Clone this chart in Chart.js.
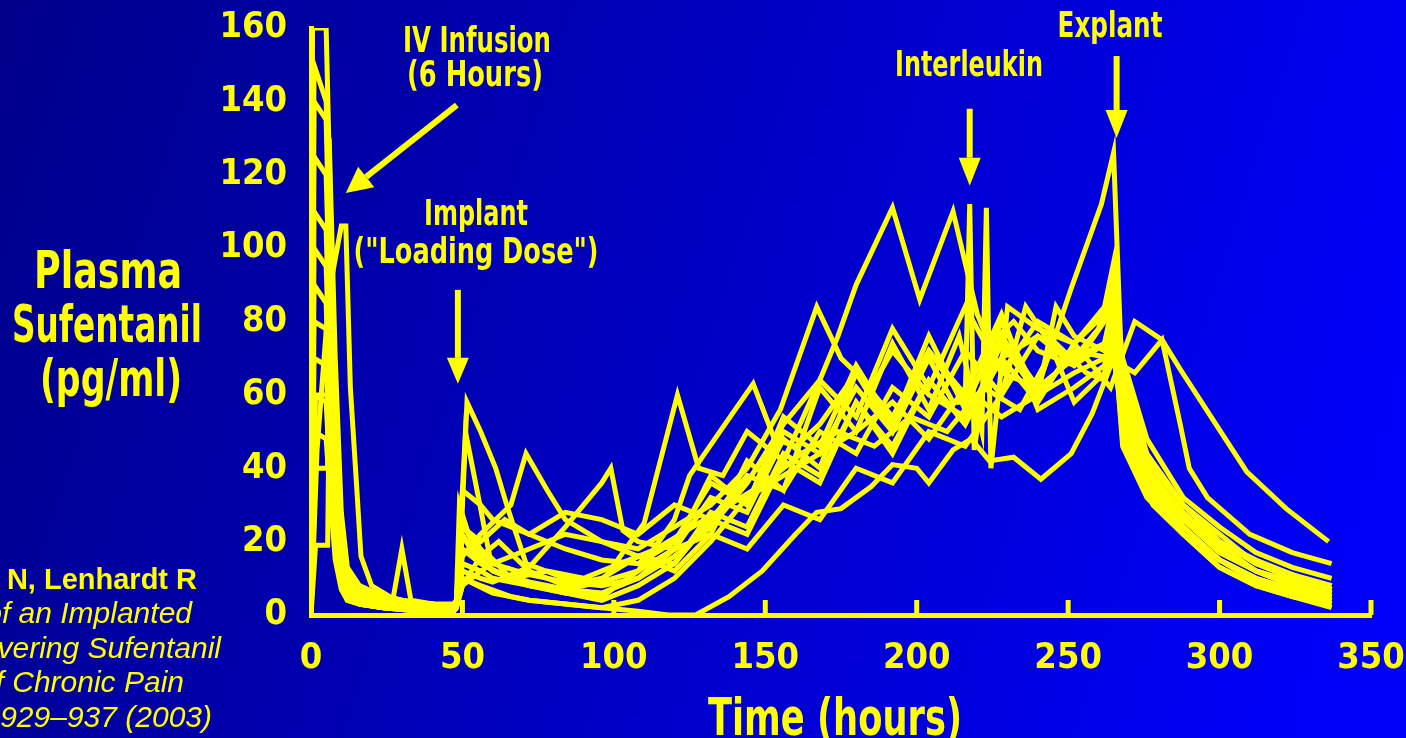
<!DOCTYPE html>
<html>
<head>
<meta charset="utf-8">
<title>Plasma Sufentanil</title>
<script src="https://cdn.jsdelivr.net/npm/chart.js@4.4.1/dist/chart.umd.min.js"></script>
<style>
    html, body { margin: 0; padding: 0; background: #0000a0; overflow: hidden; }
    #wrap { width: 1406px; height: 738px; position: relative; }
</style>
</head>
<body>
<div id="wrap"><canvas id="plasma"></canvas></div>
<script>
// sampling times (hours) and plasma sufentanil (pg/ml), one pair per patient
const hours1 = [0, 0.5, 5, 6, 8, 10, 12, 16, 24, 36, 47, 48, 49, 52, 60, 72, 84, 96, 108, 120, 132, 144, 156, 168, 174, 180, 192, 201, 212, 220, 228, 240, 252, 260, 265, 268, 276, 288, 300, 312, 324, 337];
const conc1  = [0, 160, 160, 125, 58, 22, 10, 6, 4, 3, 3, 4, 30, 22, 14, 11, 9, 8, 10, 16, 24, 36, 52, 64, 76, 90, 111, 86, 110, 82, 66, 62, 70, 78, 92, 70, 48, 32, 24, 17, 13, 10];

const hours2 = [0, 1, 5, 7, 9, 12, 16, 20, 30, 40, 47, 48, 50, 56, 60, 72, 84, 96, 108, 120, 132, 144, 156, 168, 180, 192, 204, 212, 216, 217.5, 219, 224, 232, 240, 252, 262, 265, 268, 276, 288, 300, 312, 324, 337];
const conc2  = [0, 150, 140, 85, 32, 12, 7, 5, 4, 3, 2, 3, 34, 30, 26, 22, 18, 15, 14, 20, 36, 30, 50, 44, 62, 50, 70, 58, 58, 112, 45, 74, 80, 72, 68, 80, 88, 62, 42, 30, 22, 14, 10, 7];

const hours3 = [0, 2, 6, 10, 11.5, 13, 15, 16.5, 20, 26, 30, 34, 40, 47, 48, 50, 54, 60, 72, 84, 96, 108, 120, 132, 144, 156, 168, 180, 192, 204, 214, 221.5, 223, 224.5, 230, 240, 252, 262, 265, 268, 276, 288, 300, 312, 324, 337];
const conc3  = [0, 45, 88, 106, 106, 62, 36, 16, 8, 5, 4, 3, 3, 2, 3, 22, 16, 12, 9, 7, 6, 10, 18, 22, 42, 34, 62, 50, 74, 56, 76, 50, 111, 40, 84, 78, 74, 82, 90, 66, 44, 30, 20, 14, 11, 8];

const hours4 = [0, 1, 5, 6, 8, 10, 12, 16, 24, 36, 47, 48, 49.5, 51.5, 56, 61, 65, 71, 84, 96, 108, 120, 132, 144, 156, 168, 180, 192, 204, 216, 228, 240, 251, 261, 265, 268, 272, 280, 288, 300, 312, 324, 337];
const conc4  = [0, 140, 135, 100, 45, 18, 9, 6, 4, 3, 2, 3, 20, 58, 50, 40, 29, 14, 10, 9, 12, 18, 32, 28, 48, 40, 66, 54, 72, 58, 76, 62, 89, 112, 126, 60, 40, 32, 26, 18, 12, 8, 5];

const hours5 = [0, 1.5, 5.5, 6.5, 8, 10, 12, 16, 24, 27, 30, 33, 40, 47, 48, 50, 56, 66, 71, 78, 84, 96, 108, 120, 132, 144, 156, 168, 180, 192, 204, 216, 228, 240, 252, 264, 272, 281, 287, 298, 309, 322, 336];
const conc5  = [0, 19, 19, 95, 50, 20, 10, 6, 4, 4, 18, 4, 3, 2, 3, 16, 22, 30, 44, 34, 26, 20, 16, 14, 28, 24, 44, 38, 58, 46, 64, 52, 70, 58, 74, 62, 80, 75, 67, 53, 39, 29, 20];

const hours6 = [0, 1.5, 5.5, 6, 8, 10, 12, 16, 24, 36, 47, 48, 50, 56, 60, 72, 84, 96, 99, 103, 108, 120, 132, 144, 156, 168, 180, 192, 204, 216, 228, 240, 252, 264, 272, 281, 287, 290, 296, 310, 324, 337];
const conc6  = [0, 40, 40, 115, 62, 24, 11, 7, 5, 3, 2, 3, 12, 10, 9, 13, 24, 36, 40, 23, 20, 18, 38, 30, 54, 46, 68, 52, 76, 56, 80, 60, 72, 70, 66, 75, 52, 40, 32, 22, 17, 14];

const hours7 = [0, 1.5, 5.5, 6, 8, 10, 12, 16, 24, 36, 47, 48, 50, 56, 66, 72, 84, 96, 108, 118, 127, 138, 149, 160, 167, 175, 185, 192, 200, 204, 212, 218, 224, 232, 241, 251, 258, 265, 270, 278, 288, 300, 312, 324, 337];
const conc7  = [0, 60, 60, 130, 70, 28, 13, 8, 5, 3, 2, 3, 10, 8, 5, 4, 3, 2, 1, 0, 0, 5, 12, 22, 28, 29, 35, 41, 40, 36, 45, 48, 42, 43, 37, 44, 55, 70, 45, 30, 22, 15, 9, 6, 3];

const hours8 = [0, 1, 5, 6, 8, 10, 12, 16, 24, 36, 47, 48, 50, 54, 60, 72, 84, 96, 110, 121, 128, 136, 144, 156, 168, 180, 192, 204, 216, 228, 240, 252, 262, 265, 268, 276, 288, 300, 312, 324, 337];
const conc8  = [0, 125, 120, 90, 40, 16, 8, 5, 3, 2, 2, 3, 26, 18, 12, 8, 7, 9, 25, 60, 40, 38, 50, 42, 64, 54, 78, 62, 84, 66, 80, 74, 84, 96, 64, 40, 27, 18, 12, 9, 6];

const hours9 = [0, 1, 5, 6, 8, 10, 12, 16, 24, 36, 47, 48, 50, 56, 60, 72, 84, 96, 108, 120, 125, 135, 146, 153, 160, 168, 180, 192, 204, 216, 228, 240, 252, 262, 265, 268, 276, 288, 300, 312, 324, 337];
const conc9  = [0, 110, 105, 75, 35, 14, 7, 4, 3, 2, 1, 2, 14, 12, 10, 8, 6, 5, 12, 26, 38, 50, 63, 48, 46, 52, 66, 50, 72, 60, 82, 56, 62, 68, 80, 50, 36, 24, 15, 10, 7, 4];

const hours10 = [0, 1, 5, 6, 8, 10, 12, 16, 24, 36, 47, 48, 50, 56, 60, 72, 84, 96, 108, 120, 132, 144, 155, 167, 175, 185, 192, 204, 216, 228, 240, 252, 262, 265, 268, 276, 288, 300, 312, 324, 337];
const conc10  = [0, 100, 95, 70, 30, 12, 6, 4, 3, 2, 1, 2, 8, 12, 14, 18, 22, 20, 18, 24, 30, 40, 56, 84, 70, 62, 72, 60, 54, 70, 76, 70, 74, 84, 56, 38, 26, 17, 12, 8, 5];

const hours11 = [0, 1, 5, 6, 8, 10, 12, 16, 24, 36, 47, 48, 51, 56, 59, 66, 72, 84, 96, 108, 120, 132, 144, 156, 168, 180, 192, 204, 216, 228, 240, 246, 252, 262, 265, 268, 276, 288, 300, 312, 324, 337];
const conc11  = [0, 90, 85, 60, 26, 10, 5, 3, 2, 2, 1, 2, 50, 29, 16, 10, 8, 6, 4, 8, 14, 26, 22, 42, 36, 58, 44, 64, 52, 74, 60, 84, 76, 72, 78, 46, 32, 22, 13, 8, 5, 2];

const hours12 = [0, 1, 5, 6, 8, 10, 12, 16, 24, 36, 47, 48, 50, 56, 66, 78, 90, 102, 114, 126, 138, 150, 162, 174, 186, 198, 210, 222, 234, 246, 256, 262, 265, 268, 276, 288, 300, 312, 324, 337];
const conc12  = [0, 80, 78, 55, 24, 10, 5, 3, 2, 2, 1, 2, 18, 14, 10, 12, 10, 14, 18, 24, 30, 36, 44, 50, 46, 54, 50, 62, 56, 74, 66, 64, 72, 52, 36, 24, 15, 10, 7, 4];

const hours13 = [0, 1, 5, 6, 8, 10, 12, 16, 24, 36, 47, 48, 50, 60, 72, 84, 96, 108, 120, 132, 144, 156, 168, 180, 192, 204, 216, 228, 240, 252, 262, 265, 268, 276, 288, 300, 312, 324, 337];
const conc13  = [0, 70, 68, 48, 20, 9, 5, 3, 2, 1, 1, 2, 10, 6, 4, 3, 2, 4, 10, 20, 32, 38, 44, 50, 58, 48, 62, 54, 60, 66, 70, 76, 48, 34, 22, 13, 8, 5, 3];

const hours14 = [0, 1, 5, 6, 8, 10, 12, 16, 24, 36, 47, 48, 50, 56, 64, 72, 84, 96, 108, 120, 132, 144, 156, 168, 180, 192, 204, 216, 228, 240, 252, 262, 265, 268, 276, 288, 300, 312, 324, 337];
const conc14  = [0, 60, 58, 42, 18, 8, 4, 3, 2, 1, 1, 2, 24, 20, 26, 22, 28, 26, 22, 30, 26, 38, 34, 50, 44, 62, 54, 72, 60, 76, 68, 74, 86, 58, 40, 28, 19, 12, 9, 6];

const hours15 = [0, 1, 5, 6, 8, 10, 12, 16, 24, 36, 47, 48, 50, 56, 62, 72, 84, 96, 108, 120, 132, 144, 156, 168, 180, 192, 204, 216, 228, 236, 244, 252, 262, 265, 268, 274, 282, 290, 300, 312, 324, 337];
const conc15  = [0, 50, 48, 36, 15, 7, 4, 3, 2, 1, 1, 2, 8, 16, 20, 12, 8, 10, 16, 12, 22, 18, 30, 26, 40, 36, 50, 46, 60, 84, 74, 58, 66, 74, 54, 40, 30, 26, 20, 15, 11, 7];

const xTickValues = [0, 50, 100, 150, 200, 250, 300, 350];
const yTickValues = [0, 20, 40, 60, 80, 100, 120, 140, 160];

const YELLOW = "#ffff00";
const NARROW = '"Liberation Sans Narrow", "Arial Narrow", "DejaVu Sans Condensed", sans-serif';
const PLAIN = '"Liberation Sans", Arial, sans-serif';

const patients = [
    [hours1, conc1], [hours2, conc2], [hours3, conc3], [hours4, conc4],
    [hours5, conc5], [hours6, conc6], [hours7, conc7], [hours8, conc8],
    [hours9, conc9], [hours10, conc10], [hours11, conc11], [hours12, conc12],
    [hours13, conc13], [hours14, conc14], [hours15, conc15]
];

let datasets = patients.map(function (p, k) {
    return {
        label: "Patient " + (k + 1),
        data: p[0].map((h, i) => ({ x: h, y: p[1][i] })),
        borderColor: YELLOW,
        borderWidth: 5,
        pointRadius: 0,
        tension: 0,
        fill: false
    };
});

function arrow(ctx, x0, y0, x1, y1, head, half) {
    let ang = Math.atan2(y1 - y0, x1 - x0);
    let bx = x1 - Math.cos(ang) * head, by = y1 - Math.sin(ang) * head;
    ctx.beginPath();
    ctx.moveTo(x0, y0);
    ctx.lineTo(bx, by);
    ctx.stroke();
    ctx.beginPath();
    ctx.moveTo(x1, y1);
    ctx.lineTo(bx + Math.sin(ang) * half, by - Math.cos(ang) * half);
    ctx.lineTo(bx - Math.sin(ang) * half, by + Math.cos(ang) * half);
    ctx.closePath();
    ctx.fill();
}

function text(ctx, str, x, y, font, maxW) {
    ctx.font = font;
    if (maxW) ctx.fillText(str, x, y, maxW); else ctx.fillText(str, x, y);
}

const slide = {
    id: "slide",
    beforeDraw(chart) {
        let ctx = chart.ctx;
        let g = ctx.createLinearGradient(0, 0, chart.width, chart.height * 0.6);
        g.addColorStop(0, "#00008a");
        g.addColorStop(1, "#0000fa");
        ctx.save();
        ctx.fillStyle = g;
        ctx.fillRect(0, 0, chart.width, chart.height);
        ctx.restore();
    },
    afterDraw(chart) {
        let ctx = chart.ctx;
        let xs = chart.scales.x, ys = chart.scales.y, area = chart.chartArea;
        ctx.save();
        ctx.fillStyle = YELLOW;
        ctx.strokeStyle = YELLOW;

        // inward tick marks on the time axis
        ctx.lineWidth = 5;
        xTickValues.forEach(function (v) {
            if (v === 0) return;
            let px = xs.getPixelForValue(v);
            ctx.beginPath();
            ctx.moveTo(px, area.bottom);
            ctx.lineTo(px, area.bottom - 15);
            ctx.stroke();
        });

        // axis titles
        ctx.textAlign = "center";
        ctx.textBaseline = "alphabetic";
        text(ctx, "Plasma", 108, 288, "bold 52px " + NARROW, 148);
        text(ctx, "Sufentanil", 107, 342, "bold 52px " + NARROW, 190);
        text(ctx, "(pg/ml)", 111, 396, "bold 52px " + NARROW, 142);
        text(ctx, "Time (hours)", 835, 735, "bold 52px " + NARROW, 254);

        // annotations
        ctx.textBaseline = "middle";
        text(ctx, "IV Infusion", 477, 43, "bold 35px " + NARROW, 148);
        text(ctx, "(6 Hours)", 475, 77, "bold 35px " + NARROW, 136);
        text(ctx, "Implant", 476, 216, "bold 35px " + NARROW, 104);
        text(ctx, "(\"Loading Dose\")", 476, 254, "bold 35px " + NARROW, 245);
        text(ctx, "Interleukin", 969, 67, "bold 35px " + NARROW, 148);
        text(ctx, "Explant", 1110, 28, "bold 35px " + NARROW, 105);

        ctx.lineWidth = 6;
        let ivX = xs.getPixelForValue(11.5), ivY = ys.getPixelForValue(115);
        arrow(ctx, ivX + 111, ivY - 88, ivX, ivY, 26, 13);
        let imX = xs.getPixelForValue(48.5), imY = ys.getPixelForValue(63);
        arrow(ctx, imX, imY - 94, imX, imY, 26, 11);
        let ilX = xs.getPixelForValue(217.5), ilY = ys.getPixelForValue(117);
        arrow(ctx, ilX, ilY - 77, ilX, ilY, 28, 11);
        let exX = xs.getPixelForValue(266), exY = ys.getPixelForValue(130);
        arrow(ctx, exX, exY - 82, exX, exY, 28, 11);

        // reference, cut at the left edge of the slide
        ctx.textAlign = "right";
        ctx.textBaseline = "alphabetic";
        text(ctx, "Fisher DM, Kellett N, Lenhardt R", 197, 589, "bold 29px " + PLAIN);
        text(ctx, "Pharmacokinetics of an Implanted", 192, 623, "italic 30px " + PLAIN);
        text(ctx, "Osmotic Pump Delivering Sufentanil", 221, 658, "italic 30px " + PLAIN);
        text(ctx, "for the Treatment of Chronic Pain", 184, 692, "italic 30px " + PLAIN);
        text(ctx, "Anesthesiology 99: 929\u2013937 (2003)", 212, 727, "italic 30px " + PLAIN);
        ctx.restore();
    }
};

let chart1 = new Chart(document.getElementById("plasma"), {
    type: "line",
    data: { datasets: datasets },
    plugins: [slide],
    options: {
        responsive: true,
        maintainAspectRatio: false,
        animation: false,
        layout: { padding: { left: 0, top: 28, right: 35, bottom: 0 } },
        plugins: {
            legend: { display: false },
            tooltip: { enabled: false }
        },
        scales: {
            x: {
                type: "linear",
                min: 0,
                max: 350,
                afterBuildTicks: s => { s.ticks = xTickValues.map(v => ({ value: v })); },
                afterFit: s => { s.height = 123; s.paddingLeft = 0; s.paddingRight = 0; },
                grid: { display: false, drawTicks: false },
                border: { display: true, color: YELLOW, width: 5 },
                ticks: {
                    color: YELLOW,
                    padding: 22,
                    maxRotation: 0,
                    font: { family: NARROW, size: 36, weight: "bold" }
                },
                title: { display: false }
            },
            y: {
                min: 0,
                max: 160,
                afterBuildTicks: s => { s.ticks = yTickValues.map(v => ({ value: v })); },
                afterFit: s => { s.width = 311; s.paddingTop = 0; s.paddingBottom = 0; },
                grid: { display: false, drawTicks: false },
                border: { display: true, color: YELLOW, width: 5 },
                ticks: {
                    color: YELLOW,
                    padding: 24,
                    font: { family: NARROW, size: 36, weight: "bold" }
                },
                title: { display: false }
            }
        }
    }
});
</script>
</body>
</html>
